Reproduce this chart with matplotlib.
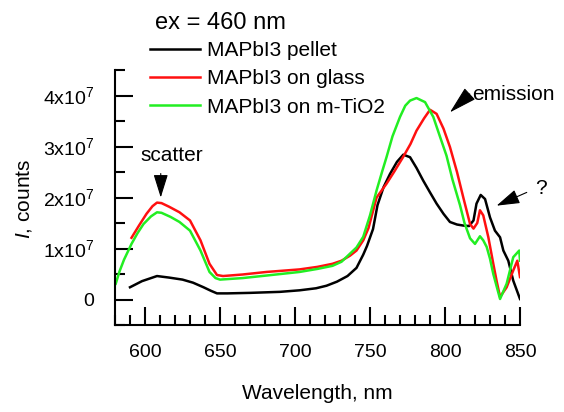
import numpy as np
import matplotlib
matplotlib.use("Agg")
import matplotlib.pyplot as plt
from matplotlib.ticker import MultipleLocator, FuncFormatter

plt.rcParams['font.family'] = ['Liberation Sans', 'DejaVu Sans']
plt.rcParams['mathtext.fontset'] = 'custom'
plt.rcParams['mathtext.rm'] = 'Liberation Sans'
plt.rcParams['mathtext.it'] = 'Liberation Sans:italic'

# ---- data (intensity in units of 1e7 counts) ----
pellet_x = [590, 598, 608, 616, 625, 632, 639, 644, 648, 655, 670, 690, 703, 714, 721, 728,
            735, 741, 745.5, 748, 752, 755, 759, 763.3, 768, 772.2, 776.7, 781, 785.5, 790,
            794.4, 799, 803.3, 808, 812.2, 816, 819, 821, 823.8, 826.7, 830, 833.3, 836.7,
            838.9, 842.2, 845.5, 850]
pellet_y = [0.24, 0.36, 0.46, 0.43, 0.39, 0.33, 0.24, 0.17, 0.12, 0.12, 0.13, 0.15, 0.18, 0.22,
            0.27, 0.35, 0.46, 0.62, 0.88, 1.05, 1.38, 1.85, 2.20, 2.46, 2.70, 2.84, 2.79, 2.58,
            2.33, 2.10, 1.88, 1.68, 1.52, 1.47, 1.45, 1.44, 1.55, 1.88, 2.05, 1.97, 1.61, 1.35,
            1.22, 0.96, 0.76, 0.37, 0.01]

glass_x = [591, 596, 601, 605, 608, 611, 616, 623, 630, 637, 643, 648, 652, 665, 681, 703, 715,
           725, 731, 736.7, 741, 745.5, 749, 754.4, 761, 766, 772, 777, 781, 786, 790, 794.4,
           799, 803.3, 808, 812.2, 816.7, 819, 821.5, 823.3, 825.5, 828.9, 832.2, 834.5, 836.7,
           841.1, 845.5, 848.2, 850]
glass_y = [1.21, 1.45, 1.68, 1.83, 1.90, 1.89, 1.82, 1.71, 1.55, 1.16, 0.70, 0.48, 0.46, 0.49,
           0.54, 0.59, 0.64, 0.70, 0.76, 0.86, 0.96, 1.16, 1.40, 2.00, 2.27, 2.50, 2.79, 3.05,
           3.31, 3.55, 3.72, 3.64, 3.35, 2.99, 2.50, 2.00, 1.48, 1.39, 1.50, 1.75, 1.65, 1.22,
           0.70, 0.35, 0.05, 0.24, 0.57, 0.76, 0.44]

tio2_x = [580.5, 583, 586, 591, 595, 599, 604, 608, 611, 617, 623, 630, 637, 643, 647, 650, 665,
          681, 703, 715, 725, 731, 736.7, 741, 745.5, 750, 754.4, 758, 761, 765, 770, 773.5,
          776.7, 781, 786.7, 792.2, 796, 801, 805, 810, 813, 816.7, 820, 823.3, 825.5, 827.8,
          830, 832.2, 834.5, 836.7, 841.1, 845.5, 849.5, 850]
tio2_y = [0.31, 0.55, 0.78, 1.09, 1.30, 1.48, 1.63, 1.71, 1.70, 1.62, 1.52, 1.35, 0.96, 0.54,
          0.42, 0.39, 0.42, 0.47, 0.54, 0.60, 0.66, 0.74, 0.90, 1.02, 1.23, 1.65, 2.14, 2.50,
          2.79, 3.20, 3.58, 3.80, 3.90, 3.95, 3.87, 3.58, 3.25, 2.82, 2.35, 1.85, 1.50, 1.20,
          1.09, 1.24, 1.16, 1.03, 0.80, 0.50, 0.25, 0.01, 0.31, 0.83, 0.96, 0.76]

labels = ["MAPbI3 pellet", "MAPbI3 on glass", "MAPbI3 on m-TiO2"]
colors = ["black", "#ff1010", "#22ee22"]
SCALE = 1e7

fig = plt.figure(figsize=(5.64, 4.12), dpi=100)
ax = fig.add_axes([115/564, 87/412, 405/564, 255/412])

for xs, ys, lab, c in zip([pellet_x, glass_x, tio2_x], [pellet_y, glass_y, tio2_y], labels, colors):
    ax.plot(xs, np.array(ys) * SCALE, color=c, lw=1.8, label=lab)

ax.set_xlim(580, 850)
ax.set_ylim(-0.5 * SCALE, 4.5 * SCALE)
for s in ['top', 'right']:
    ax.spines[s].set_visible(False)
for s in ['left', 'bottom']:
    ax.spines[s].set_linewidth(1.5)

ax.xaxis.set_major_locator(MultipleLocator(50))
ax.xaxis.set_minor_locator(MultipleLocator(10))
ax.yaxis.set_major_locator(MultipleLocator(1e7))
ax.yaxis.set_minor_locator(MultipleLocator(0.5e7))

def yfmt(v, pos):
    n = int(round(v / 1e7))
    if n == 0:
        return "0"
    return r"$\mathregular{%dx10^{7}}$" % n
ax.yaxis.set_major_formatter(FuncFormatter(yfmt))

ax.tick_params(which='major', direction='in', length=13, width=1.5, labelsize=14)
ax.tick_params(which='minor', direction='in', length=7.5, width=1.5)
ax.tick_params(axis='x', which='major', pad=14)
ax.tick_params(axis='y', which='major', pad=15)

ax.set_xlabel("Wavelength, nm", fontsize=15)
ax.xaxis.set_label_coords(0.5, -0.23)
ax.set_ylabel(r"$\mathit{I}$, counts", fontsize=15)
ax.yaxis.set_label_coords(-0.20, 0.494)

fig.text(155/564, 1 - 23/412, "ex = 460 nm", fontsize=17, ha='left', va='center')
ax.legend(loc='upper left', bbox_to_anchor=(150/564, 1 - 41/412), bbox_transform=fig.transFigure,
          frameon=False, fontsize=15, borderpad=0, borderaxespad=0, handlelength=2.4,
          handletextpad=0.35, labelspacing=0.45)

arrow = dict(arrowstyle='-|>,head_length=0.8,head_width=0.25', color='black', lw=0.8,
             shrinkA=0, shrinkB=0, mutation_scale=18)
arrow_em = dict(arrowstyle='-|>,head_length=0.8,head_width=0.22', color='black', lw=0.8,
                shrinkA=0, shrinkB=0, mutation_scale=22)
ax.text(617.7, 2.82 * SCALE, "scatter", fontsize=15, ha='center', va='center')
ax.annotate("", xy=(610.5, 2.0 * SCALE), xytext=(610.5, 2.47 * SCALE), arrowprops=arrow)
ax.text(845.3, 4.02 * SCALE, "emission", fontsize=15, ha='center', va='center', clip_on=False)
ax.annotate("", xy=(803.3, 3.67 * SCALE), xytext=(816.5, 4.03 * SCALE), arrowprops=arrow_em)
ax.text(864, 2.18 * SCALE, "?", fontsize=15, ha='center', va='center', clip_on=False)
ax.annotate("", xy=(834.4, 1.84 * SCALE), xytext=(854.5, 2.10 * SCALE), arrowprops=arrow,
            annotation_clip=False)

fig.savefig("out.png", dpi=100)
